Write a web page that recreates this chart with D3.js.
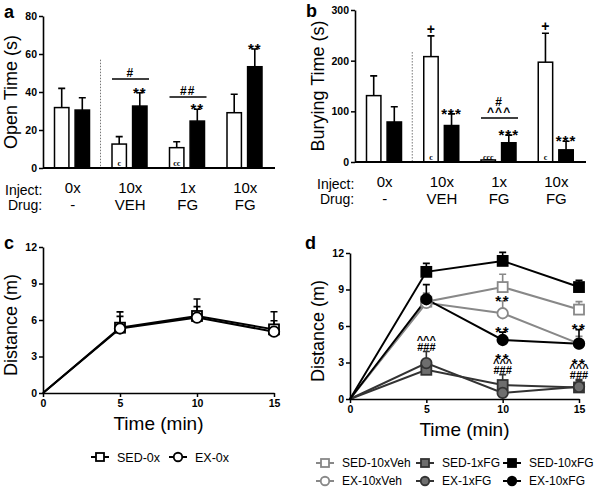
<!DOCTYPE html>
<html>
<head>
<meta charset="utf-8">
<script src="https://cdn.jsdelivr.net/npm/d3@7"></script>
<style>
body { margin: 0; background: #fff; }
text { font-family: "Liberation Sans", Arial, sans-serif; }
</style>
</head>
<body>
<script>
// ---- data ----
var series = ["SED", "EX"];
var injectLabels = ["0x", "10x", "1x", "10x"];
var drugLabels = ["-", "VEH", "FG", "FG"];

// panel a: open time (s)
var openSED = [31.8, 12.6, 10.7, 29.1];
var openSEDerr = [10.1, 3.9, 3.1, 9.7];
var openEX = [30.5, 32.6, 24.7, 53.3];
var openEXerr = [6.5, 7.0, 6.2, 9.3];

// panel b: burying time (s)
var burySED = [131, 208, 4, 197];
var burySEDerr = [39, 41, 0, 57];
var buryEX = [79, 72, 38, 24];
var buryEXerr = [30, 23, 15, 17];

// panel c/d: distance (m) by time
var times = [0, 5, 10, 15];
var sed0 = [0, 5.37, 6.33, 5.23];
var sed0err = [0, 1.3, 1.4, 1.45];
var ex0 = [0, 5.3, 6.2, 5.04];
var ex0err = [0, 1.0, 0.9, 0.9];

var sed10Veh = [0, 8.0, 9.2, 7.35];
var sed10VehErr = [0, 0.5, 1.05, 0.65];
var ex10Veh = [0, 7.9, 7.05, 4.55];
var ex10VehErr = [0, 0.8, 1.0, 0.6];
var sed1FG = [0, 2.4, 1.15, 0.95];
var sed1FGerr = [0, 0.5, 0.85, 0.65];
var ex1FG = [0, 2.95, 0.5, 1.0];
var ex1FGerr = [0, 0.95, 0.5, 0.5];
var sed10FG = [0, 10.45, 11.35, 9.2];
var sed10FGerr = [0, 0.7, 0.7, 0.55];
var ex10FG = [0, 8.2, 4.85, 4.55];
var ex10FGerr = [0, 1.2, 0.65, 1.15];

var svg = d3.select("body").append("svg")
    .attr("width", 600)
    .attr("height", 487);

function panelLetter(x, y, s) {
  svg.append("text").attr("x", x).attr("y", y)
    .style("font-size", "18px").style("font-weight", "bold").text(s);
}

function styleAxis(g) {
  g.select(".domain").attr("stroke-width", 1.6);
  g.selectAll(".tick line").attr("stroke-width", 1.5);
  g.selectAll(".tick text").style("font-family", "'Liberation Sans', Arial, sans-serif")
    .style("font-size", "10.5px").style("font-weight", "bold").attr("fill", "#000");
}

// ---- bar panels (a, b) ----
function barPanel(o) {
  var x0 = d3.scaleBand().domain(d3.range(4)).range([o.left, o.right]);
  var x1 = d3.scaleBand().domain(series).range([11.5, 46.5]).paddingInner(0.3);
  var y = d3.scaleLinear().domain([0, o.max]).range([o.bottom, o.top]);
  var g = svg.append("g");
  var bw = x1.bandwidth();

  function cx(i, s) { return x0(i) + x1(s) + bw / 2; }

  // divider
  g.append("line")
    .attr("x1", x0(1)).attr("x2", x0(1))
    .attr("y1", y(o.dividerTop)).attr("y2", o.bottom)
    .attr("stroke", "#777").attr("stroke-width", 1)
    .attr("stroke-dasharray", "1.5,1.5");

  series.forEach(function(s, si) {
    var vals = o.values[si], errs = o.errs[si];
    // error bars
    g.selectAll(null).data(vals).enter().append("path")
      .attr("d", function(d, i) {
        var xx = cx(i, s), yt = y(d + errs[i]);
        return "M" + xx + "," + y(d) + "V" + yt + "M" + (xx - 3.5) + "," + yt + "H" + (xx + 3.5);
      })
      .attr("stroke", "#000").attr("stroke-width", 1.6).attr("fill", "none");
    g.selectAll(null).data(vals).enter().append("rect")
      .attr("x", function(d, i) { return x0(i) + x1(s); })
      .attr("y", function(d) { return y(d); })
      .attr("width", bw)
      .attr("height", function(d) { return o.bottom - y(d); })
      .attr("fill", si ? "#000" : "#fff")
      .attr("stroke", "#000").attr("stroke-width", 1.5);
  });

  // y axis
  g.append("g")
    .attr("transform", "translate(" + o.left + ",0)")
    .call(d3.axisLeft(y).tickValues(o.ticks).tickSize(4).tickSizeOuter(0).tickPadding(2))
    .call(styleAxis);
  // x axis line
  g.append("line").attr("x1", o.left).attr("x2", o.right + 2)
    .attr("y1", o.bottom).attr("y2", o.bottom)
    .attr("stroke", "#000").attr("stroke-width", 2);

  // y title
  g.append("text")
    .attr("transform", "translate(" + o.titleX + "," + ((o.top + o.bottom) / 2) + ") rotate(-90)")
    .attr("text-anchor", "middle").attr("dy", "0.35em")
    .style("font-size", "18px").text(o.title);

  // category labels
  g.append("text").attr("x", o.labelX).attr("y", o.bottom + 27)
    .style("font-size", "14px").text("Inject:");
  g.append("text").attr("x", o.labelX + 3).attr("y", o.bottom + 42)
    .style("font-size", "14px").text("Drug:");
  g.selectAll(null).data(injectLabels).enter().append("text")
    .attr("x", function(d, i) { return x0(i) + x0.bandwidth() / 2 + 1; })
    .attr("y", o.bottom + 25)
    .attr("text-anchor", "middle").style("font-size", "15px").text(function(d) { return d; });
  g.selectAll(null).data(drugLabels).enter().append("text")
    .attr("x", function(d, i) { return x0(i) + x0.bandwidth() / 2 + 1; })
    .attr("y", o.bottom + 42)
    .attr("text-anchor", "middle").style("font-size", "15px").text(function(d) { return d; });

  // annotations above error bars
  o.marks.forEach(function(m) {
    var si = series.indexOf(m.s);
    var top = y(o.values[si][m.i] + o.errs[si][m.i]);
    var big = m.text.indexOf("*") >= 0;
    g.append("text").attr("x", cx(m.i, m.s)).attr("y", top + (big ? 5 : -2))
      .attr("text-anchor", "middle")
      .style("font-size", big ? "15px" : "14px").style("font-weight", "bold")
      .style("letter-spacing", big ? "1px" : "0px")
      .text(m.text);
  });
  // brackets
  o.brackets.forEach(function(b) {
    var yy = y(b.value);
    g.append("line").attr("x1", x0(b.i) + x1("SED")).attr("x2", x0(b.i) + x1("EX") + bw + 2)
      .attr("y1", yy).attr("y2", yy).attr("stroke", "#000").attr("stroke-width", 1.5);
    b.labels.forEach(function(t, k) {
      g.append("text").attr("x", x0(b.i) + x0.bandwidth() / 2 + 1)
        .attr("y", yy - 2 - k * 10)
        .attr("text-anchor", "middle").style("font-size", "12px").style("font-weight", "bold")
        .style("letter-spacing", "1px").text(t);
    });
  });
  // small c marks in SED bars
  o.cMarks.forEach(function(c) {
    g.append("text").attr("x", cx(c.i, "SED")).attr("y", o.bottom - 2)
      .attr("text-anchor", "middle")
      .style("font-family", "'Liberation Serif', serif").style("font-size", "8px")
      .style("font-weight", "bold").text(c.text);
  });
}

barPanel({
  left: 43, right: 273, top: 16, bottom: 168, max: 80,
  ticks: [0, 20, 40, 60, 80], dividerTop: 57,
  values: [openSED, openEX], errs: [openSEDerr, openEXerr],
  title: "Open Time (s)", titleX: 11, labelX: 5,
  marks: [{s: "EX", i: 1, text: "**"}, {s: "EX", i: 2, text: "**"}, {s: "EX", i: 3, text: "**"}],
  brackets: [{i: 1, value: 46.8, labels: ["#"]}, {i: 2, value: 37.4, labels: ["##"]}],
  cMarks: [{i: 1, text: "c"}, {i: 2, text: "cc"}]
});

barPanel({
  left: 355, right: 584, top: 10, bottom: 162, max: 300,
  ticks: [0, 100, 200, 300], dividerTop: 217,
  values: [burySED, buryEX], errs: [burySEDerr, buryEXerr],
  title: "Burying Time (s)", titleX: 318, labelX: 317,
  marks: [{s: "SED", i: 1, text: "+"}, {s: "SED", i: 3, text: "+"},
          {s: "EX", i: 1, text: "***"}, {s: "EX", i: 2, text: "***"}, {s: "EX", i: 3, text: "***"}],
  brackets: [{i: 2, value: 87, labels: ["^^^", "#"]}],
  cMarks: [{i: 1, text: "c"}, {i: 2, text: "ccc"}, {i: 3, text: "c"}]
});

panelLetter(4, 18, "a");
panelLetter(306, 17, "b");

// ---- line panels (c, d) ----
function marker(g, shape, x, y, fill, stroke, size) {
  if (shape === "square") {
    g.append("rect").attr("x", x - size / 2).attr("y", y - size / 2)
      .attr("width", size).attr("height", size)
      .attr("fill", fill).attr("stroke", stroke).attr("stroke-width", 1.8);
  } else {
    g.append("circle").attr("cx", x).attr("cy", y).attr("r", size / 2)
      .attr("fill", fill).attr("stroke", stroke).attr("stroke-width", 1.8);
  }
}

function linePanel(o) {
  var x = d3.scaleLinear().domain([0, 15]).range([o.left, o.right]);
  var y = d3.scaleLinear().domain([0, 12]).range([o.bottom, o.top]);
  var g = svg.append("g");
  var line = d3.line().x(function(d, i) { return x(times[i]); }).y(function(d) { return y(d); });

  o.lines.forEach(function(s) {
    g.append("path").datum(s.values).attr("d", line)
      .attr("fill", "none").attr("stroke", s.line).attr("stroke-width", 2);
  });
  o.lines.forEach(function(s) {
    s.values.forEach(function(v, i) {
      if (!s.errs[i]) return;
      var xx = x(times[i]), yt = y(v + s.errs[i]);
      g.append("path")
        .attr("d", "M" + xx + "," + y(v) + "V" + yt + "M" + (xx - 3.5) + "," + yt + "H" + (xx + 3.5))
        .attr("stroke", s.line).attr("stroke-width", 1.6).attr("fill", "none");
    });
  });
  o.lines.forEach(function(s) {
    s.values.forEach(function(v, i) {
      if (i === 0) return;
      marker(g, s.shape, x(times[i]), y(v), s.fill, s.stroke, s.shape === "square" ? 10 : 10.5);
    });
  });

  g.append("g").attr("transform", "translate(" + o.left + ",0)")
    .call(d3.axisLeft(y).tickValues([0, 3, 6, 9, 12]).tickSize(4).tickSizeOuter(0).tickPadding(2))
    .call(styleAxis);
  g.append("g").attr("transform", "translate(0," + o.bottom + ")")
    .call(d3.axisBottom(x).tickValues(times).tickSize(4).tickSizeOuter(0).tickPadding(3))
    .call(styleAxis);

  g.append("text")
    .attr("transform", "translate(" + o.titleX + "," + ((o.top + o.bottom) / 2 + 5) + ") rotate(-90)")
    .attr("text-anchor", "middle").attr("dy", "0.35em")
    .style("font-size", "18px").text("Distance (m)");
  g.append("text").attr("x", (o.left + o.right) / 2).attr("y", o.bottom + 37)
    .attr("text-anchor", "middle").style("font-size", "19px").text("Time (min)");

  // annotations, stacked upward from the error-bar top
  (o.notes || []).forEach(function(n) {
    var s = o.lines.filter(function(l) { return l.name === n.name; })[0];
    var c = y(s.values[n.i] + s.errs[n.i]);
    n.lines.slice().reverse().forEach(function(t, k) {
      var base, size, sp;
      if (t.indexOf("*") >= 0) { base = c + 4.5; size = 15; sp = 1.5; c = base - 11; }
      else if (t.indexOf("^") >= 0) { base = c + 1.2; size = 11; sp = 0; c = base - 7.5; }
      else { base = c - 0.5; size = 11; sp = 0; c = base - 8.5; }
      g.append("text").attr("x", x(times[n.i])).attr("y", base)
        .attr("text-anchor", "middle")
        .style("font-size", size + "px").style("font-weight", "bold")
        .style("letter-spacing", sp + "px")
        .text(t);
    });
  });

  // legend
  o.lines.forEach(function(s, k) {
    var lx = o.legend[k][0], ly = o.legend[k][1];
    g.append("line").attr("x1", lx - 9).attr("x2", lx + 9).attr("y1", ly).attr("y2", ly)
      .attr("stroke", s.line).attr("stroke-width", 2);
    marker(g, s.shape, lx, ly, s.fill, s.stroke, s.shape === "square" ? 8 : 8.5);
    g.append("text").attr("x", lx + 17).attr("y", ly).attr("dy", "0.36em")
      .style("font-size", o.legendSize).text(s.name);
  });
}

linePanel({
  left: 43, right: 274, top: 247, bottom: 393, titleX: 11,
  legendSize: "12.5px",
  lines: [
    {name: "SED-0x", values: sed0, errs: sed0err, shape: "square", fill: "#fff", stroke: "#000", line: "#000"},
    {name: "EX-0x", values: ex0, errs: ex0err, shape: "circle", fill: "#fff", stroke: "#000", line: "#000"}
  ],
  legend: [[100, 457], [178, 457]]
});

linePanel({
  left: 350, right: 579, top: 253, bottom: 399, titleX: 318,
  legendSize: "12px",
  lines: [
    {name: "SED-10xVeh", values: sed10Veh, errs: sed10VehErr, shape: "square", fill: "#fff", stroke: "#888", line: "#888"},
    {name: "EX-10xVeh", values: ex10Veh, errs: ex10VehErr, shape: "circle", fill: "#fff", stroke: "#888", line: "#888"},
    {name: "SED-1xFG", values: sed1FG, errs: sed1FGerr, shape: "square", fill: "#6e6e6e", stroke: "#333", line: "#333"},
    {name: "EX-1xFG", values: ex1FG, errs: ex1FGerr, shape: "circle", fill: "#6e6e6e", stroke: "#333", line: "#333"},
    {name: "SED-10xFG", values: sed10FG, errs: sed10FGerr, shape: "square", fill: "#000", stroke: "#000", line: "#000"},
    {name: "EX-10xFG", values: ex10FG, errs: ex10FGerr, shape: "circle", fill: "#000", stroke: "#000", line: "#000"}
  ],
  legend: [[325, 463], [325, 481], [425, 463], [425, 481], [512, 463], [512, 481]],
  notes: [
    {name: "EX-1xFG", i: 1, lines: ["^^^", "###"]},
    {name: "EX-10xVeh", i: 2, lines: ["**"]},
    {name: "EX-10xFG", i: 2, lines: ["**"]},
    {name: "EX-10xFG", i: 3, lines: ["**"]},
    {name: "SED-1xFG", i: 2, lines: ["**", "^^^", "###"]},
    {name: "SED-1xFG", i: 3, lines: ["**", "^^^", "###"]}
  ]
});

panelLetter(4, 249, "c");
panelLetter(305, 249, "d");
</script>
</body>
</html>
